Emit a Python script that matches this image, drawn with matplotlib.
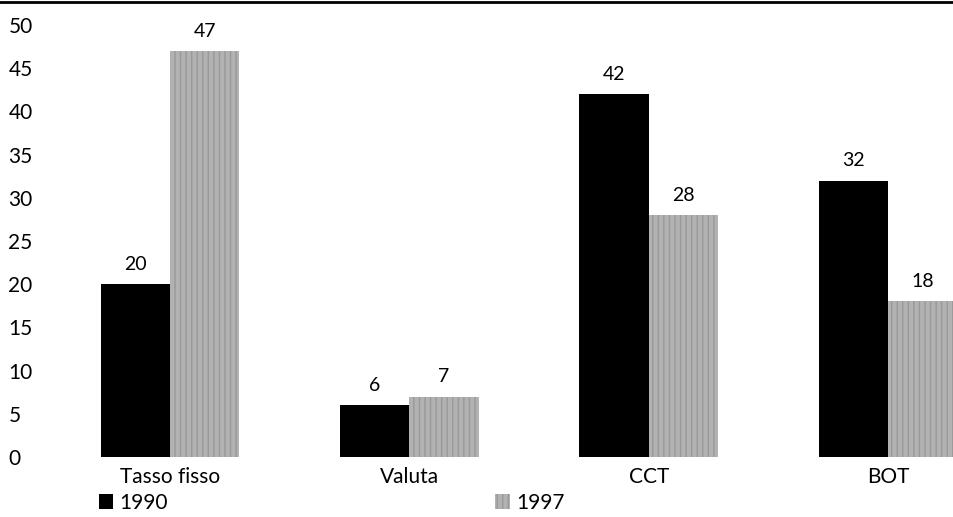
import matplotlib
matplotlib.use("Agg")
import matplotlib.pyplot as plt
import numpy as np

categorie = ["Tasso fisso", "Valuta", "CCT", "BOT"]
valori_1990 = [20, 6, 42, 32]
valori_1997 = [47, 7, 28, 18]
anni = ["1990", "1997"]
tick_y = [0, 5, 10, 15, 20, 25, 30, 35, 40, 45, 50]

FONT = "Lato"


def crea_figura():
    fig = plt.figure(figsize=(9.54, 5.17), dpi=100)
    ax = fig.add_axes([0, 60 / 517, 1, 457 / 517])
    return fig, ax


def disegna_barre(ax):
    x = np.arange(len(categorie))
    larg = 0.29
    b1 = ax.bar(x - larg / 2, valori_1990, larg, color="black", linewidth=0)
    b2 = ax.bar(x + larg / 2, valori_1997, larg, color="#b2b2b2",
                edgecolor="#999999", hatch="|||", linewidth=0)

    for barre in (b1, b2):
        for b in barre:
            ax.annotate(f"{b.get_height():.0f}",
                        (b.get_x() + b.get_width() / 2, b.get_height()),
                        xytext=(0, 8), textcoords="offset points",
                        ha="center", va="bottom", fontsize=14, family=FONT)

    ax.set_xticks(x)
    ax.set_xticklabels(categorie, fontsize=15, family=FONT)
    return b1, b2


def sistema_assi(ax):
    ax.set_xlim(-170 / 239.3, 3 + 66 / 239.3)
    ax.set_ylim(0, 457 / 8.64)
    ax.set_yticks(tick_y)
    ax.set_yticklabels([str(v) for v in tick_y], fontsize=15, family=FONT)
    for lab in ax.get_yticklabels():
        lab.set_horizontalalignment("left")
    ax.tick_params(axis="y", length=0, pad=-6)
    ax.tick_params(axis="x", length=0, pad=7)
    for s in ax.spines.values():
        s.set_visible(False)
    ax.patch.set_alpha(0)


def main():
    fig, ax = crea_figura()
    b1, b2 = disegna_barre(ax)
    sistema_assi(ax)

    # riga in alto
    fig.add_artist(plt.Line2D([0, 1], [0.997, 0.997], color="black", lw=2,
                              transform=fig.transFigure))

    fig.legend([b1, b2], anni, ncol=2, loc="lower left",
               bbox_to_anchor=(80 / 954, -0.028), frameon=False,
               handlelength=0.7, handleheight=0.7, handletextpad=0.3,
               columnspacing=15.7, prop={"family": FONT, "size": 15})

    fig.savefig("out.png", dpi=100)


if __name__ == "__main__":
    main()
